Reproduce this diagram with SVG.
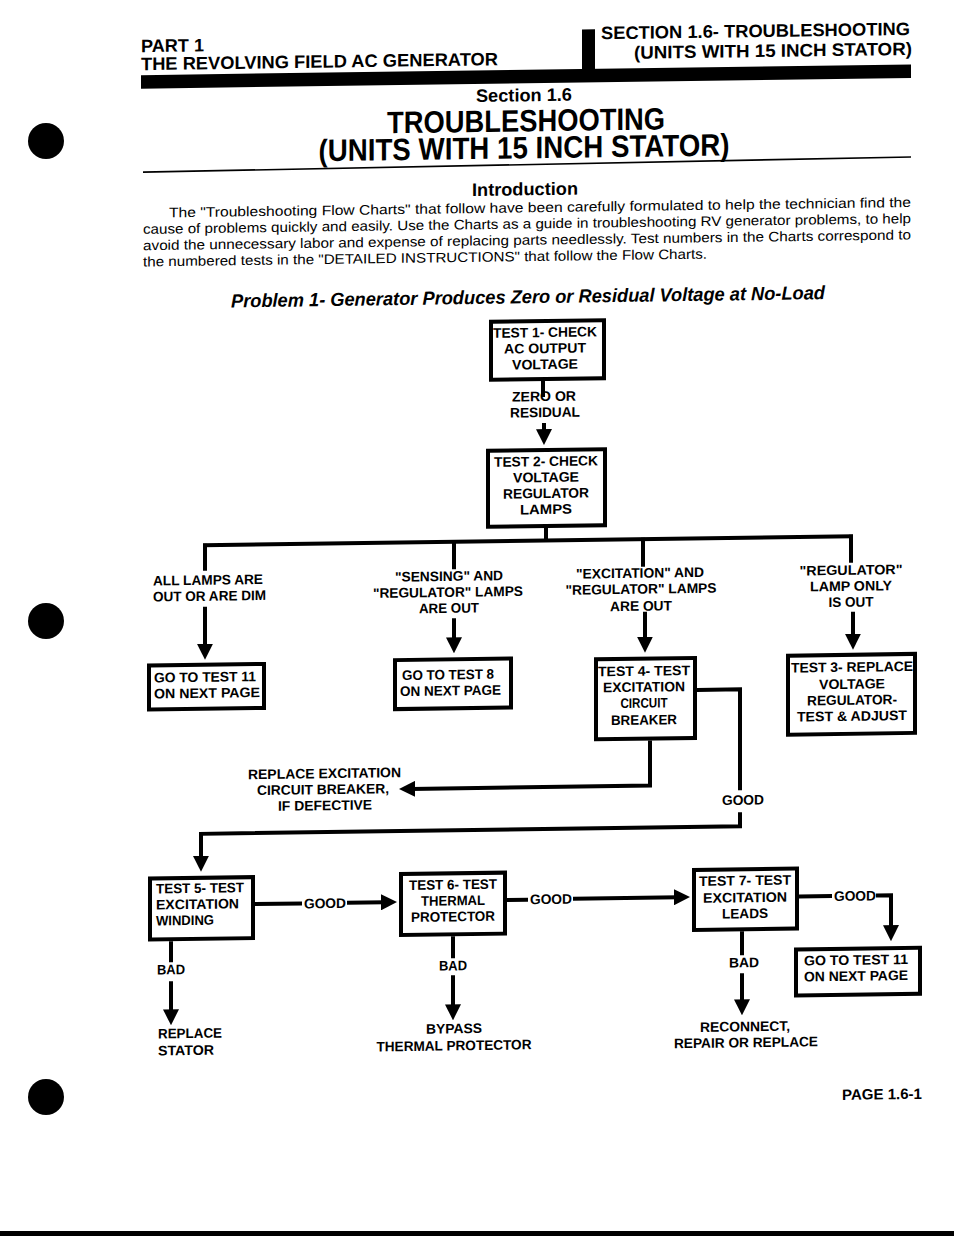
<svg xmlns="http://www.w3.org/2000/svg" width="954" height="1236" viewBox="0 0 954 1236">
<style>
text{font-family:"Liberation Sans",Arial,sans-serif;fill:#000}
.h{font-size:18px;font-weight:bold}
.t{font-size:31px;font-weight:bold}
.p{font-size:13.8px}
.pt{font-size:19px;font-weight:bold;font-style:italic}
.b{font-size:13.8px;font-weight:bold}
.m{text-anchor:middle}
.box{fill:#fff;stroke:#000;stroke-width:4}
.ln{fill:none;stroke:#000;stroke-width:4}
</style>
<defs>
<marker id="ah" viewBox="0 0 16 16" refX="4" refY="8" markerWidth="16" markerHeight="16" markerUnits="userSpaceOnUse" orient="auto">
<path d="M0,0 L16,8 L0,16 Z" fill="#000"/>
</marker>
</defs>
<rect width="954" height="1236" fill="#fff"/>
<g id="holes">
<circle cx="46" cy="141" r="18" fill="#000"/>
<circle cx="46" cy="621" r="18" fill="#000"/>
<circle cx="46" cy="1097" r="18" fill="#000"/>
</g>
<rect x="0" y="1231" width="954" height="5" fill="#000"/>
<g transform="translate(0 6.66) skewY(-0.8)">
<g id="header">
<text class="h" x="141" y="47.5" textLength="63" lengthAdjust="spacingAndGlyphs">PART 1</text>
<text class="h" x="141" y="65.5" textLength="357" lengthAdjust="spacingAndGlyphs">THE REVOLVING FIELD AC GENERATOR</text>
<rect x="582" y="31" width="13" height="45" fill="#000"/>
<text class="h" x="601" y="41" textLength="309" lengthAdjust="spacingAndGlyphs">SECTION 1.6- TROUBLESHOOTING</text>
<text class="h" x="912" y="61" text-anchor="end" textLength="278" lengthAdjust="spacingAndGlyphs">(UNITS WITH 15 INCH STATOR)</text>
<rect x="141" y="70.5" width="770" height="13.5" fill="#000"/>
<text class="h m" x="524" y="102" textLength="96" lengthAdjust="spacingAndGlyphs">Section 1.6</text>
<text class="t m" x="526" y="132" textLength="278" lengthAdjust="spacingAndGlyphs">TROUBLESHOOTING</text>
<text class="t m" x="524" y="159" textLength="411" lengthAdjust="spacingAndGlyphs">(UNITS WITH 15 INCH STATOR)</text>
<line x1="143" y1="167.5" x2="911" y2="163" stroke="#000" stroke-width="1.6"/>
</g>
<g id="intro">
<text class="h m" x="525" y="196" textLength="106" lengthAdjust="spacingAndGlyphs">Introduction</text>
<text class="p" x="169" y="213" textLength="742" lengthAdjust="spacingAndGlyphs">The "Troubleshooting Flow Charts" that follow have been carefully formulated to help the technician find the</text>
<text class="p" x="143" y="229.2" textLength="768" lengthAdjust="spacingAndGlyphs">cause of problems quickly and easily. Use the Charts as a guide in troubleshooting RV generator problems, to help</text>
<text class="p" x="143" y="245.5" textLength="768" lengthAdjust="spacingAndGlyphs">avoid the unnecessary labor and expense of replacing parts needlessly. Test numbers in the Charts correspond to</text>
<text class="p" x="143" y="261.8" textLength="564" lengthAdjust="spacingAndGlyphs">the numbered tests in the "DETAILED INSTRUCTIONS" that follow the Flow Charts.</text>
<text class="pt" x="231" y="304" textLength="594" lengthAdjust="spacingAndGlyphs">Problem 1- Generator Produces Zero or Residual Voltage at No-Load</text>
</g>
<g id="connectors">
<line class="ln" x1="543" y1="382" x2="543" y2="398"/>
<line class="ln" x1="544" y1="424" x2="544" y2="434" marker-end="url(#ah)"/>
<line class="ln" x1="546" y1="529" x2="546" y2="542"/>
<line class="ln" x1="203" y1="541.5" x2="853" y2="541.5"/>
<line class="ln" x1="205" y1="540" x2="205" y2="567"/>
<line class="ln" x1="205" y1="603" x2="205" y2="644" marker-end="url(#ah)"/>
<line class="ln" x1="454" y1="540" x2="454" y2="569"/>
<line class="ln" x1="454" y1="618" x2="454" y2="641" marker-end="url(#ah)"/>
<line class="ln" x1="643" y1="540" x2="643" y2="569"/>
<line class="ln" x1="645" y1="614" x2="645" y2="643" marker-end="url(#ah)"/>
<line class="ln" x1="851" y1="540" x2="851" y2="568"/>
<line class="ln" x1="853" y1="617" x2="853" y2="643" marker-end="url(#ah)"/>
<polyline class="ln" points="697,693 740,693 740,794"/>
<polyline class="ln" points="740,816 740,830 201,830 201,856" marker-end="url(#ah)"/>
<polyline class="ln" points="650,743 650,788 411,788" marker-end="url(#ah)"/>
<line class="ln" x1="255" y1="901" x2="302" y2="901"/>
<line class="ln" x1="347" y1="901" x2="385" y2="901" marker-end="url(#ah)"/>
<line class="ln" x1="507" y1="900.5" x2="528" y2="900.5"/>
<line class="ln" x1="573" y1="900" x2="678" y2="900" marker-end="url(#ah)"/>
<line class="ln" x1="799" y1="901" x2="832" y2="901"/>
<polyline class="ln" points="876,901 891,901 891,935" marker-end="url(#ah)"/>
<line class="ln" x1="171" y1="937" x2="171" y2="958"/>
<line class="ln" x1="171" y1="977" x2="171" y2="1009" marker-end="url(#ah)"/>
<line class="ln" x1="453" y1="936" x2="453" y2="958"/>
<line class="ln" x1="453" y1="975" x2="453" y2="1008" marker-end="url(#ah)"/>
<line class="ln" x1="742" y1="935" x2="742" y2="959"/>
<line class="ln" x1="742" y1="977" x2="742" y2="1007" marker-end="url(#ah)"/>
</g>
<g id="labels">
<text class="b m" x="544" y="402" textLength="64" lengthAdjust="spacingAndGlyphs">ZERO OR</text>
<text class="b m" x="545" y="418" textLength="70" lengthAdjust="spacingAndGlyphs">RESIDUAL</text>
<text class="b" x="153" y="581" textLength="110" lengthAdjust="spacingAndGlyphs">ALL LAMPS ARE</text>
<text class="b" x="153" y="597" textLength="113" lengthAdjust="spacingAndGlyphs">OUT OR ARE DIM</text>
<text class="b m" x="449" y="580.5" textLength="108" lengthAdjust="spacingAndGlyphs">"SENSING" AND</text>
<text class="b m" x="448" y="596.5" textLength="150" lengthAdjust="spacingAndGlyphs">"REGULATOR" LAMPS</text>
<text class="b m" x="449" y="612.5" textLength="60" lengthAdjust="spacingAndGlyphs">ARE OUT</text>
<text class="b m" x="640" y="580" textLength="128" lengthAdjust="spacingAndGlyphs">"EXCITATION" AND</text>
<text class="b m" x="641" y="596" textLength="151" lengthAdjust="spacingAndGlyphs">"REGULATOR" LAMPS</text>
<text class="b m" x="641" y="613" textLength="62" lengthAdjust="spacingAndGlyphs">ARE OUT</text>
<text class="b m" x="851" y="580" textLength="103" lengthAdjust="spacingAndGlyphs">"REGULATOR"</text>
<text class="b m" x="851" y="596" textLength="82" lengthAdjust="spacingAndGlyphs">LAMP ONLY</text>
<text class="b m" x="851" y="612" textLength="45" lengthAdjust="spacingAndGlyphs">IS OUT</text>
<text class="b m" x="743" y="808.5" textLength="42" lengthAdjust="spacingAndGlyphs">GOOD</text>
<text class="b" x="248" y="776" textLength="153" lengthAdjust="spacingAndGlyphs">REPLACE EXCITATION</text>
<text class="b m" x="323" y="792" textLength="132" lengthAdjust="spacingAndGlyphs">CIRCUIT BREAKER,</text>
<text class="b m" x="325" y="808" textLength="94" lengthAdjust="spacingAndGlyphs">IF DEFECTIVE</text>
<text class="b" x="304" y="906" textLength="42" lengthAdjust="spacingAndGlyphs">GOOD</text>
<text class="b" x="530" y="905" textLength="42" lengthAdjust="spacingAndGlyphs">GOOD</text>
<text class="b" x="834" y="906" textLength="42" lengthAdjust="spacingAndGlyphs">GOOD</text>
<text class="b" x="157" y="970" textLength="28" lengthAdjust="spacingAndGlyphs">BAD</text>
<text class="b m" x="453" y="970" textLength="28" lengthAdjust="spacingAndGlyphs">BAD</text>
<text class="b m" x="744" y="971" textLength="30" lengthAdjust="spacingAndGlyphs">BAD</text>
<text class="b" x="158" y="1034" textLength="64" lengthAdjust="spacingAndGlyphs">REPLACE</text>
<text class="b" x="158" y="1051" textLength="56" lengthAdjust="spacingAndGlyphs">STATOR</text>
<text class="b m" x="454" y="1033" textLength="56" lengthAdjust="spacingAndGlyphs">BYPASS</text>
<text class="b m" x="454" y="1050" textLength="155" lengthAdjust="spacingAndGlyphs">THERMAL PROTECTOR</text>
<text class="b m" x="745" y="1035" textLength="90" lengthAdjust="spacingAndGlyphs">RECONNECT,</text>
<text class="b m" x="746" y="1051" textLength="144" lengthAdjust="spacingAndGlyphs">REPAIR OR REPLACE</text>
<text class="h" style="font-size:15px" x="842" y="1105" textLength="80" lengthAdjust="spacingAndGlyphs">PAGE 1.6-1</text>
</g>
<g id="test1">
<rect class="box" x="491" y="322" width="113" height="58"/>
<text class="b m" x="545" y="338" textLength="104" lengthAdjust="spacingAndGlyphs">TEST 1- CHECK</text>
<text class="b m" x="545" y="354" textLength="82" lengthAdjust="spacingAndGlyphs">AC OUTPUT</text>
<text class="b m" x="545" y="370" textLength="66" lengthAdjust="spacingAndGlyphs">VOLTAGE</text>
</g>
<g id="test2">
<rect class="box" x="488" y="451" width="117" height="76"/>
<text class="b m" x="546" y="467" textLength="104" lengthAdjust="spacingAndGlyphs">TEST 2- CHECK</text>
<text class="b m" x="546" y="483" textLength="66" lengthAdjust="spacingAndGlyphs">VOLTAGE</text>
<text class="b m" x="546" y="499" textLength="86" lengthAdjust="spacingAndGlyphs">REGULATOR</text>
<text class="b m" x="546" y="515" textLength="52" lengthAdjust="spacingAndGlyphs">LAMPS</text>
</g>
<g id="goto11a">
<rect class="box" x="149" y="661" width="115" height="44"/>
<text class="b" x="154" y="678" textLength="102" lengthAdjust="spacingAndGlyphs">GO TO TEST 11</text>
<text class="b" x="154" y="694" textLength="106" lengthAdjust="spacingAndGlyphs">ON NEXT PAGE</text>
</g>
<g id="goto8">
<rect class="box" x="395" y="659" width="116" height="49"/>
<text class="b" x="402" y="679" textLength="92" lengthAdjust="spacingAndGlyphs">GO TO TEST 8</text>
<text class="b" x="400" y="695" textLength="101" lengthAdjust="spacingAndGlyphs">ON NEXT PAGE</text>
</g>
<g id="test4">
<rect class="box" x="596" y="661" width="99" height="80"/>
<text class="b m" x="644" y="678" textLength="92" lengthAdjust="spacingAndGlyphs">TEST 4- TEST</text>
<text class="b m" x="644" y="694" textLength="82" lengthAdjust="spacingAndGlyphs">EXCITATION</text>
<text class="b m" x="644" y="710" textLength="47" lengthAdjust="spacingAndGlyphs">CIRCUIT</text>
<text class="b m" x="644" y="727" textLength="66" lengthAdjust="spacingAndGlyphs">BREAKER</text>
</g>
<g id="test3">
<rect class="box" x="788" y="660" width="127" height="79"/>
<text class="b m" x="852" y="677" textLength="122" lengthAdjust="spacingAndGlyphs">TEST 3- REPLACE</text>
<text class="b m" x="852" y="694" textLength="66" lengthAdjust="spacingAndGlyphs">VOLTAGE</text>
<text class="b m" x="852" y="710" textLength="90" lengthAdjust="spacingAndGlyphs">REGULATOR-</text>
<text class="b m" x="852" y="726" textLength="110" lengthAdjust="spacingAndGlyphs">TEST &amp; ADJUST</text>
</g>
<g id="test5">
<rect class="box" x="150" y="874" width="103" height="61"/>
<text class="b" x="156" y="889" textLength="88" lengthAdjust="spacingAndGlyphs">TEST 5- TEST</text>
<text class="b" x="156" y="905" textLength="83" lengthAdjust="spacingAndGlyphs">EXCITATION</text>
<text class="b" x="156" y="921" textLength="58" lengthAdjust="spacingAndGlyphs">WINDING</text>
</g>
<g id="test6">
<rect class="box" x="401" y="873" width="104" height="61"/>
<text class="b m" x="453" y="889" textLength="88" lengthAdjust="spacingAndGlyphs">TEST 6- TEST</text>
<text class="b m" x="453" y="905" textLength="64" lengthAdjust="spacingAndGlyphs">THERMAL</text>
<text class="b m" x="453" y="921" textLength="84" lengthAdjust="spacingAndGlyphs">PROTECTOR</text>
</g>
<g id="test7">
<rect class="box" x="694" y="873" width="103" height="60"/>
<text class="b m" x="745" y="889" textLength="92" lengthAdjust="spacingAndGlyphs">TEST 7- TEST</text>
<text class="b m" x="745" y="906" textLength="84" lengthAdjust="spacingAndGlyphs">EXCITATION</text>
<text class="b m" x="745" y="922" textLength="46" lengthAdjust="spacingAndGlyphs">LEADS</text>
</g>
<g id="goto11b">
<rect class="box" x="796" y="954" width="124" height="46"/>
<text class="b" x="804" y="970" textLength="104" lengthAdjust="spacingAndGlyphs">GO TO TEST 11</text>
<text class="b" x="804" y="986" textLength="104" lengthAdjust="spacingAndGlyphs">ON NEXT PAGE</text>
</g>
</g>
</svg>
